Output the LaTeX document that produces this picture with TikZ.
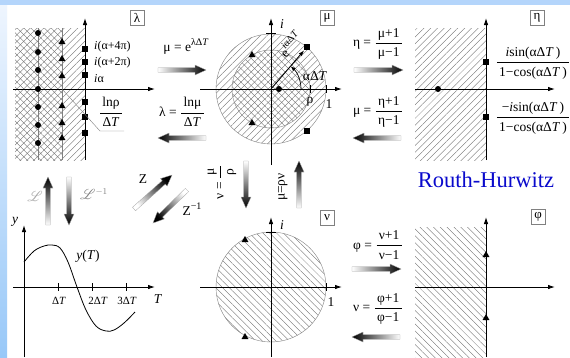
\documentclass[tikz,border=0pt]{standalone}
\usepackage{fontspec}
\setmainfont{Liberation Serif}
\usepackage{amsmath}
\usepackage{mathrsfs}
\usetikzlibrary{arrows.meta,patterns.meta,shapes.geometric,calc}

\definecolor{bandblue}{HTML}{B4D5FB}
\definecolor{stripTop}{HTML}{EEF5FE}
\definecolor{stripBot}{HTML}{98C8F8}
\definecolor{rhblue}{HTML}{0A0ACC}
\definecolor{hatchgray}{HTML}{6A6A6A}

\newcommand{\myfrac}[2]{$\dfrac{\text{\,#1\,}}{\text{\,#2\,}}$}
\newcommand{\sups}[1]{\raisebox{0.45em}{\fontsize{10}{12}\selectfont #1}}
\newcommand{\garrow}[3]{%
  \coordinate (gaA) at (#1);
  \coordinate (gaB) at (#2);
  \coordinate (gaH) at ($(gaB)!11pt!(gaA)$);
  \shade[gradarrow, shading angle=#3]
    ($(gaA)!2.3pt!90:(gaB)$) -- ($(gaH)!2.3pt!90:(gaB)$) -- ($(gaH)!5pt!90:(gaB)$)
    -- (gaB) -- ($(gaH)!5pt!-90:(gaB)$) -- ($(gaH)!2.3pt!-90:(gaB)$)
    -- ($(gaA)!2.3pt!-90:(gaB)$) -- cycle;
}

\tikzset{
 axis/.style={line width=0.9pt, -{Latex[length=7pt,width=4.5pt]}},
 hatchNE/.style={pattern={Lines[angle=45,distance=4.8pt,line width=0.35pt]}, pattern color=hatchgray},
 hatchNW/.style={pattern={Lines[angle=-45,distance=4.8pt,line width=0.35pt]}, pattern color=hatchgray},
 dotm/.style={circle, fill=black, inner sep=0pt, minimum size=6pt},
 sqm/.style={rectangle, fill=black, inner sep=0pt, minimum size=6pt},
 trim/.style={regular polygon, regular polygon sides=3, fill=black, inner sep=0pt, minimum size=8pt},
 planebox/.style={draw=gray, line width=0.5pt, minimum width=14pt, minimum height=15pt, inner sep=1pt, font=\fontsize{13}{15}\selectfont},
 lbl/.style={font=\fontsize{13.5}{16}\selectfont, inner sep=1pt},
 slbl/.style={font=\fontsize{12}{14}\selectfont, inner sep=1pt},
 tlbl/.style={font=\fontsize{11}{13}\selectfont, inner sep=1pt},
 gradarrow/.style={top color=black, bottom color=white, draw=gray!70, line width=0.3pt},
 tickmark/.style={line width=0.8pt},
 thinline/.style={draw=gray, line width=0.4pt},
}

\begin{document}
\begin{tikzpicture}[x=1pt,y=-1pt]
\useasboundingbox (0,0) rectangle (570,357);
\fill[white] (0,0) rectangle (570,357);
\fill[bandblue] (0,0) rectangle (570,5);
\shade[top color=stripTop, bottom color=stripBot] (0,5) rectangle (7,357);

% ---------- lambda plane ----------
\fill[hatchNE] (15,28) rectangle (85,160);
\fill[hatchNW] (15,28) rectangle (62,160);
\draw[thinline] (38,28) -- (38,160);
\draw[thinline] (62,28) -- (62,160);
\draw[axis] (13,89) -- (155,89);
\draw[axis] (85,160) -- (85,18);
\foreach \y [count=\k] in {33,52,70,89,107,125,143} \node[dotm] (ld\k) at (38,\y) {};
\foreach \y [count=\k] in {42,59,76,106,123,138} \node[trim] (lt\k) at (62,\y) {};
\foreach \y [count=\k] in {49,62,75,102,117,133} \node[sqm] (ls\k) at (85,\y) {};
\node[slbl, anchor=west] (l4) at (93,47) {\textit{i}(α+4π)};
\node[slbl, anchor=west] (l2) at (93,63) {\textit{i}(α+2π)};
\node[slbl, anchor=west] (l0) at (93,79) {\textit{i}α};
\node[lbl] (lnr) at (111,112) {\myfrac{lnρ}{Δ\textit{T}}};
\coordinate (lx) at (62,89);
\coordinate (lead1) at (124,131);
\coordinate (lead2) at (100,131);
\draw[thinline] (lead1) -- (lead2) -- (lx);
\node[planebox] (bl) at (137,18) {λ};

% ---------- lambda <-> mu ----------
\node[lbl] (eq1) at (186,46) {μ = e\sups{λΔ\textit{T}}};
\garrow{158,70}{206,70}{-90}
\node[lbl] (eq2) at (182,112) {λ = \myfrac{lnμ}{Δ\textit{T}}};
\garrow{206,138}{158,138}{90}

% ---------- mu plane ----------
\coordinate (mo) at (271,89);
\fill[hatchNE] (mo) circle[radius=55];
\fill[white] (mo) circle[radius=39];
\fill[hatchNE] (mo) circle[radius=39];
\fill[hatchNW] (mo) circle[radius=39];
\draw[thinline] (mo) circle[radius=55];
\draw[thinline] (mo) circle[radius=39];
\draw[axis] (200,89) -- (342,89);
\draw[axis] (271,165) -- (271,18);
\draw[tickmark] (266,33) -- (276,33);
\draw[tickmark] (310,85) -- (310,93);
\draw[tickmark] (326,85) -- (326,93);
\node[lbl] (mi) at (282,24) {\textit{i}};
\node[lbl] (mrho) at (310,102) {ρ};
\node[lbl] (m1) at (329,104) {1};
\node[dotm] (md) at (279,89) {};
\node[sqm] (ms1) at (307,47) {};
\node[sqm] (ms2) at (307,131) {};
\node[trim] (mt1) at (252,55) {};
\node[trim] (mt2) at (252,123) {};
\draw[line width=0.9pt, -{Latex[length=6pt,width=4pt]}] (mo) -- (ms1);
\draw[line width=0.7pt, -{Latex[length=5pt,width=4pt]}] (301,89) arc[start angle=0, end angle=-49, radius=30];
\node[lbl] (malpha) at (315,76) {αΔ\textit{T}};
\node[lbl, rotate=49, inner sep=0pt] (mexp) at (290,44) {e\sups{\textit{i}αΔ\textit{T}}};
\node[planebox] (bm) at (327,18) {μ};

% ---------- mu <-> eta ----------
\node[lbl] (eq3) at (378,44) {η = \myfrac{μ+1}{μ−1}};
\garrow{354,70}{403,70}{-90}
\node[lbl] (eq4) at (378,112) {μ = \myfrac{η+1}{η−1}};
\garrow{401,138}{353,138}{90}

% ---------- eta plane ----------
\fill[hatchNE] (415,28) rectangle (486,160);
\draw[axis] (415,89) -- (555,89);
\draw[axis] (486,160) -- (486,18);
\node[dotm] (ed) at (438,89) {};
\node[sqm] (es1) at (486,62) {};
\node[sqm] (es2) at (486,117) {};
\node[lbl] (ef1) at (533,63) {\myfrac{\textit{i}sin(αΔ\textit{T}\,)}{1−cos(αΔ\textit{T}\,)}};
\node[lbl] (ef2) at (533,118) {\myfrac{−\textit{i}sin(αΔ\textit{T}\,)}{1−cos(αΔ\textit{T}\,)}};
\node[planebox] (be) at (537,18) {η};

% ---------- middle row ----------
\garrow{48,225}{48,177}{0}
\garrow{69,177}{69,225}{180}
\node[lbl, text=gray!70] (lL) at (35,196) {$\mathscr{L}$};
\node[lbl, text=gray] (lLi) at (94,194) {$\mathscr{L}^{-1}$};
\garrow{134,209}{172,175}{-48}
\garrow{187,190}{153,223}{134}
\node[lbl] (lz) at (143,179) {Z};
\node[lbl] (lzi) at (192,209) {Z\sups{−1}};
\garrow{246,161}{246,208}{180}
\node[lbl, rotate=90] (lnu) at (222,182) {ν = \myfrac{μ}{ρ}};
\garrow{299,208}{299,161}{0}
\node[lbl, rotate=90] (lmu) at (283,187) {μ=ρν};
\node[font=\fontsize{22.5}{26}\selectfont, text=rhblue, inner sep=0pt] (rh) at (486,180) {Routh-Hurwitz};

% ---------- y(T) ----------
\draw[axis] (13,287) -- (155,287);
\draw[axis] (24,357) -- (24,225);
\foreach \x in {58,92,126} \draw[tickmark] (\x,283) -- (\x,291);
\node[tlbl] (t1) at (59,301) {Δ\textit{T}};
\node[tlbl] (t2) at (98,301) {2Δ\textit{T}};
\node[tlbl] (t3) at (127,301) {3Δ\textit{T}};
\node[lbl] (tT) at (158,299) {\textit{T}};
\node[lbl] (ty) at (15,222) {\textit{y}};
\node[lbl] (yT) at (88,256) {\textit{y}(\textit{T})};
\draw[line width=0.8pt] plot[smooth, tension=0.6] coordinates {(24,262) (34,251) (44,246) (52,245) (60,248) (68,262) (77,287) (86,310) (96,326) (106,331) (114,330) (124,323) (135,312)};

% ---------- nu plane ----------
\coordinate (no) at (271,287);
\fill[hatchNW] (no) circle[radius=55];
\draw[thinline] (no) circle[radius=55];
\draw[axis] (200,287) -- (342,287);
\draw[axis] (271,357) -- (271,217);
\draw[tickmark] (266,232) -- (276,232);
\draw[tickmark] (326,283) -- (326,291);
\node[lbl] (ni) at (282,225) {\textit{i}};
\node[lbl] (n1) at (331,302) {1};
\node[trim] (nt1) at (245,240) {};
\node[trim] (nt2) at (245,337) {};
\node[planebox] (bn) at (327,218) {ν};

% ---------- nu <-> phi ----------
\node[lbl] (eq5) at (378,245) {φ = \myfrac{ν+1}{ν−1}};
\garrow{352,269}{401,269}{-90}
\node[lbl] (eq6) at (378,309) {ν = \myfrac{φ+1}{φ−1}};
\garrow{400,337}{352,337}{90}

% ---------- phi plane ----------
\fill[hatchNW] (415,227) rectangle (486,357);
\draw[axis] (415,287) -- (555,287);
\draw[axis] (486,357) -- (486,217);
\node[trim] (ft1) at (486,255) {};
\node[trim] (ft2) at (486,318) {};
\node[planebox] (bf) at (538,217) {φ};
\end{tikzpicture}
\end{document}
